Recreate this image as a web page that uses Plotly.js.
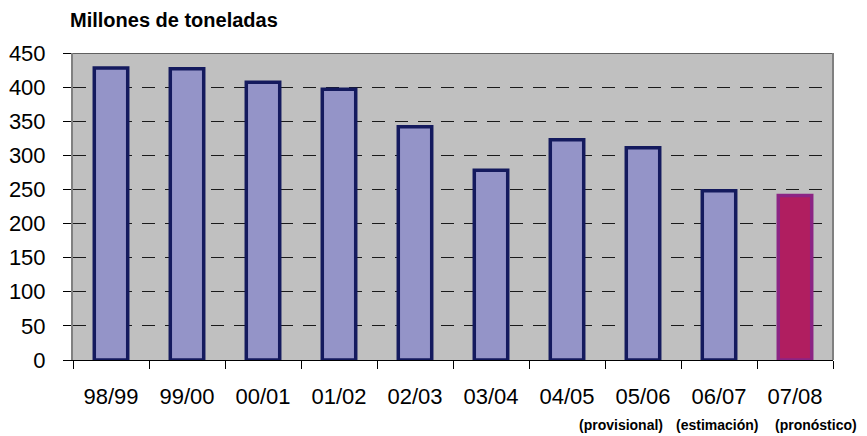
<!DOCTYPE html>
<html>
<head>
<meta charset="utf-8">
<script src="https://cdn.plot.ly/plotly-3.0.1.min.js"></script>
<style>html,body{margin:0;padding:0;background:#fff;}#chart{width:867px;height:436px;}</style>
</head>
<body>
<div id="chart"></div>
<script>
var categories = ["98/99","99/00","00/01","01/02","02/03","03/04","04/05","05/06","06/07","07/08"];
var values = [428, 427, 407, 397, 342, 278, 323, 311, 248, 241];
var fillColors = ["#9494C8","#9494C8","#9494C8","#9494C8","#9494C8","#9494C8","#9494C8","#9494C8","#9494C8","#B01E60"];
var lineColors = ["#141A5E","#141A5E","#141A5E","#141A5E","#141A5E","#141A5E","#141A5E","#141A5E","#141A5E","#8C2484"];
var notes = ["(provisional)","(estimación)","(pronóstico)"];
var notePx = [621, 717, 816];

var W = 867, H = 436, L = 73, R = 34, T = 53, B = 76;
var pw = W - L - R, ph = H - T - B;

var trace = {
  type: "bar",
  x: categories,
  y: values,
  width: 0.44,
  marker: {color: fillColors, line: {color: lineColors, width: 3.5}},
  hoverinfo: "x+y"
};

var annotations = notes.map(function(t, i){
  return {
    text: "<b>" + t + "</b>",
    xref: "paper", yref: "paper",
    x: (notePx[i] - L) / pw, y: -(425 - (T + ph)) / ph,
    xanchor: "center", yanchor: "middle",
    showarrow: false,
    font: {family: "Liberation Sans, Arial, sans-serif", size: 14, color: "#000"}
  };
});

var layout = {
  width: W, height: H,
  margin: {l: L, r: R, t: T, b: B, pad: 0},
  paper_bgcolor: "#ffffff",
  plot_bgcolor: "#C0C0C0",
  font: {family: "Liberation Sans, Arial, sans-serif", color: "#000"},
  showlegend: false,
  title: {
    text: "<b>Millones de toneladas</b>",
    font: {family: "Liberation Sans, Arial, sans-serif", size: 20, color: "#000"},
    xref: "container", yref: "container",
    x: 70 / W, xanchor: "left",
    y: 1 - 20 / H, yanchor: "middle"
  },
  xaxis: {
    type: "category",
    tickson: "boundaries",
    ticks: "outside", ticklen: 8, tickcolor: "#000", tickwidth: 1,
    showline: true, linecolor: "#000", linewidth: 1,
    showgrid: false, zeroline: false,
    tickfont: {size: 22, color: "#000"},
    ticklabelstandoff: 17,
    fixedrange: true
  },
  yaxis: {
    range: [0, 450], dtick: 50, tick0: 0,
    ticks: "outside", ticklen: 8, tickcolor: "#000", tickwidth: 1,
    showline: true, linecolor: "#808080", linewidth: 2,
    showgrid: true, gridcolor: "#1a1a1a", gridwidth: 1, griddash: "13px,10px",
    zeroline: true, zerolinecolor: "#000", zerolinewidth: 1,
    tickfont: {size: 22, color: "#000"},
    ticklabelstandoff: 13,
    fixedrange: true
  },
  shapes: [
    {type: "line", xref: "paper", yref: "y", x0: 0, x1: 1, y0: 450, y1: 450, line: {color: "#000", width: 1}, layer: "above"},
    {type: "line", xref: "paper", yref: "paper", x0: 1, x1: 1, y0: 0, y1: 1, line: {color: "#808080", width: 2}, layer: "above"}
  ],
  annotations: annotations
};

Plotly.newPlot("chart", [trace], layout, {displayModeBar: false, staticPlot: true});
</script>
</body>
</html>
